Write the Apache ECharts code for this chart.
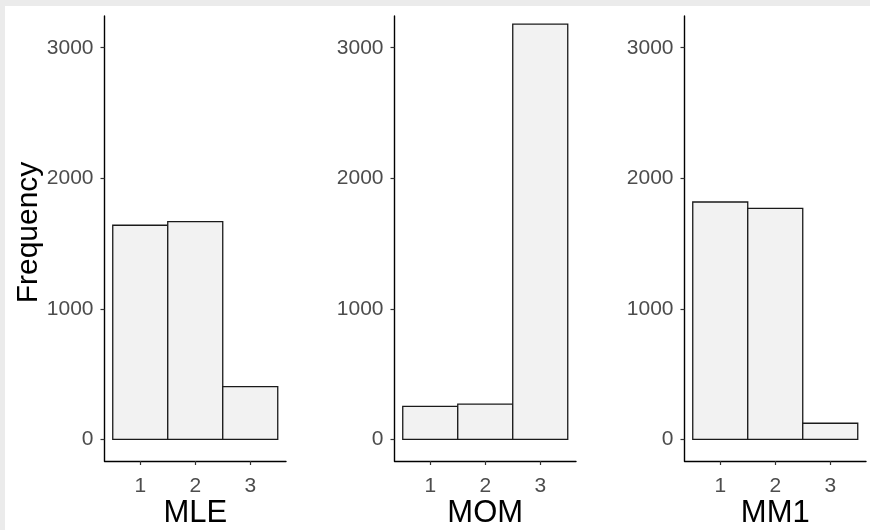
<!DOCTYPE html>
<html>
<head>
<meta charset="utf-8">
<script src="https://cdn.jsdelivr.net/npm/echarts@6/dist/echarts.min.js"></script>
<style>
html, body { margin: 0; padding: 0; background: #ebebeb; width: 870px; height: 530px; overflow: hidden; }
#c { position: absolute; left: 5px; top: 6px; width: 865px; height: 524px; background: #ffffff; }
</style>
</head>
<body>
<div id="c"></div>
<script>
const categories = [1, 2, 3];
const mleCounts = [1640, 1668, 403];
const momCounts = [253, 270, 3180];
const mm1Counts = [1818, 1770, 123];
const panelTitles = ['MLE', 'MOM', 'MM1'];
const yTicks = [0, 1000, 2000, 3000];
const xTicks = [1, 2, 3];

const panels = [mleCounts, momCounts, mm1Counts];
const FONT = "'Liberation Sans', Arial, sans-serif";
const lefts = [99.5, 389.5, 679.5];

const chart = echarts.init(document.getElementById('c'), null, { renderer: 'canvas' });

const grids = [], xAxes = [], yAxes = [], series = [];
panels.forEach((vals, i) => {
  grids.push({ left: lefts[i], top: 10, width: 181.5, height: 445, containLabel: false, outerBoundsMode: 'none' });
  xAxes.push({
    type: 'value', gridIndex: i, min: 0.35, max: 3.65,
    name: panelTitles[i], nameLocation: 'middle', nameGap: 37, nameMoveOverlap: false,
    nameTextStyle: { fontFamily: FONT, fontSize: 31, color: '#000000' },
    axisLine: { show: true, onZero: false, lineStyle: { color: '#000000', width: 1.4 } },
    axisTick: { show: true, length: 4, customValues: xTicks, lineStyle: { color: '#333333', width: 1.2 } },
    axisLabel: { show: true, customValues: xTicks, margin: 15, fontFamily: FONT, fontSize: 21, color: '#4d4d4d',
      formatter: v => String(v) },
    splitLine: { show: false }
  });
  yAxes.push({
    type: 'value', gridIndex: i, min: -166, max: 3243,
    name: i === 0 ? 'Frequency' : '', nameLocation: 'middle', nameGap: 61, nameMoveOverlap: false,
    nameTextStyle: { fontFamily: FONT, fontSize: 30, color: '#000000', padding: [0, 0, 0, 12] },
    axisLine: { show: true, onZero: false, lineStyle: { color: '#000000', width: 1.4 } },
    axisTick: { show: true, length: 4, customValues: yTicks, lineStyle: { color: '#333333', width: 1.2 } },
    axisLabel: { show: true, customValues: yTicks, margin: 11, fontFamily: FONT, fontSize: 21, color: '#4d4d4d',
      formatter: v => String(v) },
    splitLine: { show: false }
  });
  series.push({
    type: 'custom', xAxisIndex: i, yAxisIndex: i,
    data: categories.map((c, k) => [c, vals[k]]),
    renderItem: function (params, api) {
      const x = api.value(0), y = api.value(1);
      const tl = api.coord([x - 0.5, y]);
      const br = api.coord([x + 0.5, 0]);
      return {
        type: 'rect',
        shape: { x: tl[0], y: tl[1], width: br[0] - tl[0], height: br[1] - tl[1] },
        style: { fill: '#f2f2f2', stroke: '#1a1a1a', lineWidth: 1.3 }
      };
    }
  });
});

chart.setOption({
  animation: false,
  backgroundColor: '#ffffff',
  grid: grids, xAxis: xAxes, yAxis: yAxes, series: series
});
</script>
</body>
</html>
